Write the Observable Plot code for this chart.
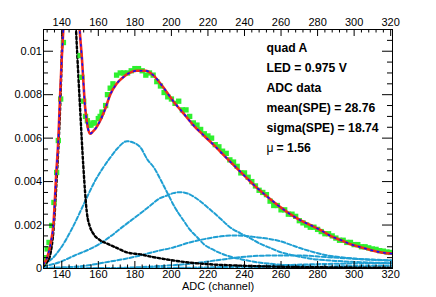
<!DOCTYPE html>
<html>
<head>
<meta charset="utf-8">
<script src="https://cdn.jsdelivr.net/npm/d3@7"></script>
<script src="https://cdn.jsdelivr.net/npm/@observablehq/plot@0.6"></script>
<style>
  html, body { margin: 0; padding: 0; background: #fff; }
  svg { display: block; }
</style>
</head>
<body>
<div id="chart"></div>
<script>
// ---- data ----
const dataChannel = [130,131,132,133,134.5,135.7,137.2,138.1,139.4,140.9,
  150,151,152,153,154,155,156,157,158,160,161,162,164,165,166.5,168,170,172,174,176,178,180,182,184,186,188,190,192,194,196,198,200,202,204,206,208,210,212,214,216,218,220,222,224,226,228,230,232,234,236,238,240,242,244,246,248,250,252,254,256,258,260,262,264,266,268,270,272,274,276,278,280,282,284,286,288,290,292,294,296,298,300,302,304,306,308,310,312,314,316,318,320];
const dataValue = [0.0003,0.0005,0.0009,0.0012,0.00198,0.00304,0.00442,0.00589,0.0078,0.0104,
  0.0098,0.0088,0.0077,0.0070,0.0068,0.0066,0.0066,0.0067,0.0067,0.0069,0.0070,0.0072,0.0075,0.0080,0.0083,0.0085,0.0089,0.0090,0.0090,0.0090,0.0091,0.0092,0.0092,0.0091,0.0089,0.0090,0.0089,0.0086,0.0084,0.0081,0.0079,0.0078,0.0076,0.0077,0.0073,0.0073,0.0070,0.0067,0.0066,0.0064,0.0062,0.0061,0.0060,0.0057,0.0056,0.0054,0.0053,0.0050,0.0049,0.0047,0.0044,0.0044,0.0042,0.0040,0.0038,0.0036,0.0035,0.0034,0.0031,0.0029,0.0029,0.0027,0.0027,0.0025,0.0025,0.0024,0.0022,0.0021,0.0020,0.0019,0.0019,0.0018,0.0017,0.0016,0.0016,0.0015,0.0014,0.0013,0.0013,0.0012,0.0012,0.0011,0.0011,0.0010,0.0010,0.00095,0.0009,0.00088,0.00082,0.0008,0.00076,0.00074];

// total fit
const fitChannel = [130,132,134,135.4,137,138.1,139,140,141,143,145.3,147.5,149.6,151,152.8,154,155.5,157,159,161,164,166.5,170,173.6,177,181,183,186,190,195,201,206,212,218,223,230,236,242,247,254,260,265,271,276,282,287,293,298,304,310,315,321];
const fitValue = [0.0002,0.0005,0.0012,0.00198,0.0044,0.0059,0.0078,0.0097,0.0112,0.0142,0.0155,0.0145,0.0112,0.0097,0.0074,0.0066,0.0062,0.0063,0.0065,0.0068,0.0074,0.0080,0.0085,0.0088,0.0090,0.0091,0.0091,0.0091,0.0089,0.0084,0.0077,0.0072,0.0066,0.0061,0.0057,0.0051,0.0046,0.0041,0.0037,0.0032,0.0028,0.0025,0.0022,0.0020,0.00175,0.0015,0.0013,0.00112,0.00097,0.00083,0.00074,0.00068];

// pedestal (black)
const pedChannel = [130,132,133.6,135.5,137.2,139.1,140.5,142,144.2,146.3,147.8,150,151.8,153.7,155.5,157.3,161,164.7,170,175.7,183,188.5,195,201,210,220,238,260,290,321];
const pedValue = [0.0001,0.0003,0.0006,0.0018,0.0041,0.0074,0.011,0.0135,0.0148,0.0138,0.011,0.0074,0.0047,0.0026,0.0019,0.0016,0.0013,0.00115,0.00095,0.00074,0.00065,0.00055,0.00045,0.00037,0.00027,0.0002,0.00013,0.00008,0.00005,0.00003];

// photo-electron components (cyan)
const pe1Channel = [130,134,139.1,146,152.8,158,162.8,166.5,170.2,175.7,179,183,187,190.3,194,197.6,202,206.7,210,214.1,218,222,227,232,238,246,254,270,290,321];
const pe1Value = [0.0002,0.0004,0.0009,0.0019,0.0031,0.0040,0.00466,0.0051,0.0055,0.00586,0.0058,0.00558,0.0050,0.00466,0.0041,0.00351,0.0028,0.0022,0.0018,0.00144,0.0011,0.0009,0.0007,0.00055,0.00043,0.0003,0.00022,0.00012,0.00006,0.00003];
const pe2Channel = [130,139.1,147,155.5,161,167,173.8,179.3,184,188.5,193,197.6,201,204.9,209,214.1,220,226.9,232,237.8,243,248.8,254,259.8,267,276.3,290,303.7,321];
const pe2Value = [0.0001,0.0003,0.0006,0.0009,0.00115,0.0015,0.00195,0.0023,0.0026,0.0029,0.0032,0.00336,0.00347,0.00351,0.00345,0.0032,0.0028,0.00229,0.0019,0.00162,0.0014,0.00113,0.00095,0.00075,0.0006,0.00045,0.00035,0.00029,0.00024];
const pe3Channel = [130,150,165,175,183,192,201.1,210,219.7,227,234,241,247.2,254.3,259.8,265,270.8,278,285.4,295,303.7,312,321];
const pe3Value = [0.00003,0.0001,0.0003,0.00045,0.0006,0.0008,0.00097,0.0012,0.00138,0.00148,0.00152,0.0015,0.00143,0.00135,0.00125,0.0011,0.00093,0.00075,0.0006,0.0005,0.00043,0.00039,0.00036];
const pe4Channel = [130,165,180,195,210.4,225,237.8,250,260,270,285.5,300,321];
const pe4Value = [0.00001,0.00002,0.00005,0.00012,0.00022,0.00038,0.00052,0.00059,0.0006,0.0006,0.00052,0.00045,0.00037];
const pe5Channel = [130,190,220,250,280,300,321];
const pe5Value = [0.0,0.00002,0.00005,0.00012,0.0002,0.00023,0.00024];
const pe6Channel = [130,230,260,290,321];
const pe6Value = [0.0,0.00001,0.00004,0.0001,0.00013];

// ticks
const xMajorTicks = [140,160,180,200,220,240,260,280,300,320];
const xMinorTicks = d3.range(132, 321, 4).filter(d => d % 20 !== 0);
const yMajorTicks = [0,0.002,0.004,0.006,0.008,0.01];
const yMinorTicks = d3.range(1, 22).map(i => i * 0.0005).filter((d, i) => (i + 1) % 4 !== 0);

const legendLines = ["quad A", "LED = 0.975 V", "ADC data", "mean(SPE) = 28.76", "sigma(SPE) = 18.74"];
const muLabel = "1.56";

const toRows = (xs, ys) => xs.map((x, i) => ({x, y: ys[i]}));

const W = 436, H = 297;
const mT = 29, mB = 29, mL = 43, mR = 44;
const innerH = H - mT - mB, innerW = W - mL - mR;

const cyan = "#1f9fd3";
const cyanStyle = {x: "x", y: "y", stroke: cyan, strokeWidth: 2, strokeDasharray: "4,2.2", curve: "monotone-x", clip: true};

const fmtY = d => d === 0 ? "0" : String(Math.round(d * 1000) / 1000);

const chart = Plot.plot({
  width: W, height: H,
  marginTop: mT, marginBottom: mB, marginLeft: mL, marginRight: mR,
  style: {fontFamily: "'Liberation Sans', Arial, sans-serif", fontSize: "11px", background: "#fff", color: "#000"},
  x: {domain: [130, 321], axis: null},
  y: {domain: [0, 0.011], axis: null},
  marks: [
    Plot.line(toRows(pe6Channel, pe6Value), cyanStyle),
    Plot.line(toRows(pe5Channel, pe5Value), cyanStyle),
    Plot.line(toRows(pe4Channel, pe4Value), cyanStyle),
    Plot.line(toRows(pe3Channel, pe3Value), cyanStyle),
    Plot.line(toRows(pe2Channel, pe2Value), cyanStyle),
    Plot.line(toRows(pe1Channel, pe1Value), cyanStyle),
    Plot.line(toRows(pedChannel, pedValue), {x: "x", y: "y", stroke: "#000", strokeWidth: 2.4, strokeDasharray: "2.4,2.4", curve: "monotone-x", clip: true}),
    Plot.dot(toRows(dataChannel, dataValue), {x: "x", y: "y", symbol: "square", r: 3, fill: "#2ef02e", stroke: "none", clip: true}),
    Plot.line(toRows(fitChannel, fitValue), {x: "x", y: "y", stroke: "#f02a1e", strokeWidth: 2.6, curve: "monotone-x", clip: true}),
    Plot.line(toRows(fitChannel, fitValue), {x: "x", y: "y", stroke: "#1010ff", strokeWidth: 1.6, strokeDasharray: "1.5,5", curve: "monotone-x", clip: true}),
    // frame and inward ticks
    Plot.frame({stroke: "#000", strokeWidth: 1}),
    Plot.tickX(xMajorTicks, {x: d => d, stroke: "#000", insetTop: innerH - 7}),
    Plot.tickX(xMinorTicks, {x: d => d, stroke: "#000", insetTop: innerH - 3.5}),
    Plot.tickX(xMajorTicks, {x: d => d, stroke: "#000", insetBottom: innerH - 7}),
    Plot.tickX(xMinorTicks, {x: d => d, stroke: "#000", insetBottom: innerH - 3.5}),
    Plot.tickY(yMajorTicks, {y: d => d, stroke: "#000", insetRight: innerW - 10}),
    Plot.tickY(yMinorTicks, {y: d => d, stroke: "#000", insetRight: innerW - 5}),
    Plot.tickY(yMajorTicks, {y: d => d, stroke: "#000", insetLeft: innerW - 10}),
    Plot.tickY(yMinorTicks, {y: d => d, stroke: "#000", insetLeft: innerW - 5}),
    // tick labels
    Plot.axisX(xMajorTicks, {anchor: "top", tickSize: 0, tickPadding: 4, fontSize: 11, label: null}),
    Plot.axisX(xMajorTicks, {anchor: "bottom", tickSize: 0, tickPadding: 2, fontSize: 11, label: null}),
    Plot.axisY(yMajorTicks, {anchor: "left", tickSize: 0, tickPadding: 1.5, fontSize: 11, tickFormat: fmtY, label: null}),
    Plot.text(["ADC (channel)"], {frameAnchor: "bottom", dy: 18, lineAnchor: "middle", fontSize: 11}),
    // legend text
    ...legendLines.map((t, i) => Plot.text([t], {frameAnchor: "top-left", textAnchor: "start", lineAnchor: "middle", dx: 223, dy: 18.5 + i * 20, fontSize: 12.2, fontWeight: "bold"})),
    Plot.text(["\u03bc"], {frameAnchor: "top-left", textAnchor: "start", lineAnchor: "middle", dx: 223, dy: 18.5 + 5 * 20, fontSize: 12.2}),
    Plot.text(["= " + muLabel], {frameAnchor: "top-left", textAnchor: "start", lineAnchor: "middle", dx: 233, dy: 18.5 + 5 * 20, fontSize: 12.2, fontWeight: "bold"})
  ]
});
document.getElementById("chart").appendChild(chart);
</script>
</body>
</html>
